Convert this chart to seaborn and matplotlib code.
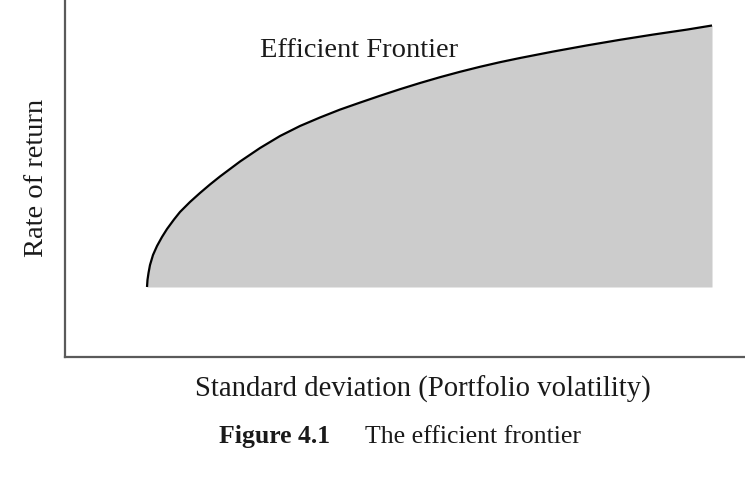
import matplotlib
matplotlib.use("Agg")
import matplotlib.pyplot as plt
import seaborn as sns
import pandas as pd

# Data (arbitrary units: axes span 0..10 in both directions)
volatility = [1.206, 1.213, 1.228, 1.250, 1.294, 1.353, 1.426, 1.500, 1.603, 1.691,
              1.838, 1.985, 2.132, 2.279, 2.574, 2.868, 3.162, 3.456, 3.750, 4.044,
              4.338, 4.632, 4.926, 5.221, 5.515, 5.809, 6.103, 6.397, 6.691, 7.176,
              7.676, 8.162, 8.647, 9.147, 9.515]
returns = [1.961, 2.157, 2.353, 2.577, 2.857, 3.109, 3.361, 3.585, 3.852, 4.062,
           4.342, 4.594, 4.832, 5.056, 5.476, 5.854, 6.190, 6.471, 6.709, 6.930,
           7.126, 7.317, 7.501, 7.675, 7.838, 7.989, 8.129, 8.258, 8.375, 8.555,
           8.728, 8.885, 9.031, 9.171, 9.286]
floor_return = 1.961

curve_label = "Efficient Frontier"
x_label = "Standard deviation (Portfolio volatility)"
y_label = "Rate of return"
caption_bold = "Figure 4.1"
caption_text = "The efficient frontier"

df = pd.DataFrame({"volatility": volatility, "ret": returns})

sns.set_theme(style="white")
plt.rcParams["font.family"] = ["Liberation Serif", "DejaVu Serif"]

W, H = 745, 494
fig = plt.figure(figsize=(W / 100, H / 100), dpi=100)
ax = fig.add_axes([65 / W, (H - 357) / H, 680 / W, 357 / H])

ax.fill_between(df["volatility"], floor_return, df["ret"], color="#cccccc", lw=0)
sns.lineplot(data=df, x="volatility", y="ret", ax=ax, color="black", lw=1.6,
             sort=False, solid_capstyle="butt", solid_joinstyle="round")

ax.set_xlim(0, 10)
ax.set_ylim(0, 10)
ax.set_xticks([])
ax.set_yticks([])
for s in ["top", "right"]:
    ax.spines[s].set_visible(False)
for s in ["left", "bottom"]:
    ax.spines[s].set_color("#5a5a5a")
    ax.spines[s].set_linewidth(1.6)

ax.set_xlabel(x_label, fontsize=20.7, color="#1a1a1a", va="baseline", ha="center")
ax.xaxis.set_label_coords((422.5 - 65) / 680, (357 - 397) / 357)
ax.set_ylabel(y_label, fontsize=20.5, color="#1a1a1a", va="baseline", ha="center")
ax.yaxis.set_label_coords((43 - 65) / 680, (357 - 178) / 357)

fig.text(260 / W, (H - 57) / H, curve_label, fontsize=20.5, color="#1a1a1a",
         ha="left", va="baseline")

fig.text(219 / W, (H - 443) / H, caption_bold, fontsize=18.5, fontweight="bold",
         color="#1a1a1a", ha="left", va="baseline")
fig.text(365 / W, (H - 443) / H, caption_text, fontsize=18.5,
         color="#1a1a1a", ha="left", va="baseline")

fig.savefig("out.png", dpi=100)
